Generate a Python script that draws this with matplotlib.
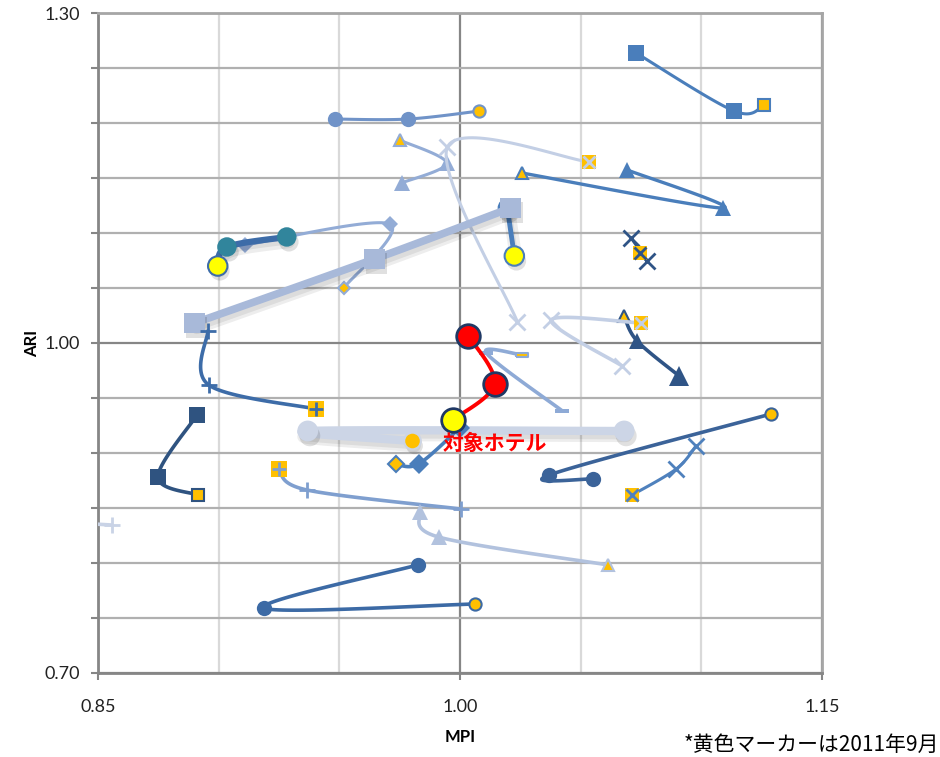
import numpy as np
import matplotlib
matplotlib.use("Agg")
import matplotlib.pyplot as plt
import matplotlib.patheffects as pe

plt.rcParams['font.family'] = ['Lato', 'Noto Sans CJK JP', 'DejaVu Sans']

# MPI / ARI の推移（各系列の最後の点が2011年9月）
s01_x = [1.0730, 1.1136, 1.1260]
s01_y = [1.2636, 1.2109, 1.2164]
s02_x = [0.9481, 0.9783, 1.0080]
s02_y = [1.2036, 1.2036, 1.2109]
s03_x = [0.9758, 0.9944, 0.9750]
s03_y = [1.1455, 1.1636, 1.1845]
s04_x = [1.0238, 0.9948, 1.0536]
s04_y = [1.0191, 1.1782, 1.1645]
s05_x = [1.0693, 1.1090, 1.0258]
s05_y = [1.1573, 1.1227, 1.1545]
s06_x = [0.8901, 0.9646, 1.0209]
s06_y = [1.0182, 1.0764, 1.1227]
s07_x = [1.0196, 1.0225]
s07_y = [1.1227, 1.0791]
s08_x = [0.9108, 0.9708, 0.9518]
s08_y = [1.0891, 1.1082, 1.0500]
s09_x = [0.9282, 0.9034, 0.8996]
s09_y = [1.0964, 1.0873, 1.0700]
s10_x = [1.0709, 1.0776, 1.0747]
s10_y = [1.0955, 1.0745, 1.0818]
s11_x = [1.0908, 1.0734, 1.0680]
s11_y = [0.9700, 1.0018, 1.0245]
s12_x = [1.0672, 1.0378, 1.0751]
s12_y = [0.9791, 1.0209, 1.0182]
s14_x = [1.0424, 1.0109, 1.0258]
s14_y = [0.9382, 0.9909, 0.9891]
s15_x = [1.0680, 0.9369, 0.9803]
s15_y = [0.9200, 0.9200, 0.9109]
s16_x = [0.9998, 0.9828, 0.9733]
s16_y = [0.9227, 0.8900, 0.8900]
s17_x = [0.8910, 0.8748, 0.8914]
s17_y = [0.9345, 0.8782, 0.8618]
s18_x = [0.8955, 0.8959, 0.9402]
s18_y = [1.0109, 0.9618, 0.9400]
s19_x = [1.0002, 0.9365, 0.9249]
s19_y = [0.8491, 0.8664, 0.8855]
s20_x = [0.8558, 0.8400]
s20_y = [0.8345, 0.8365]
s21_x = [0.9836, 0.9911, 1.0614]
s21_y = [0.8464, 0.8236, 0.7982]
s22_x = [0.9824, 0.9187, 1.0064]
s22_y = [0.7982, 0.7591, 0.7627]
s23_x = [1.0552, 1.0370, 1.1289]
s23_y = [0.8764, 0.8800, 0.9355]
s24_x = [1.0978, 1.0896, 1.0713]
s24_y = [0.9064, 0.8855, 0.8618]

# 対象ホテル
hotel_x = [1.0035, 1.0143, 0.9969]
hotel_y = [1.0064, 0.9627, 0.9300]

x_ticks = [0.85, 1.00, 1.15]
y_ticks = [0.70, 1.00, 1.30]

ORANGE = '#FFC000'
YELLOW = '#FFFF00'

# (x, y, 線色, マーカー, サイズ, 線幅, 塗り, 9月の塗り, 影)
series = [
    (s01_x, s01_y, '#4a7ebb', 's', 11, 2.2, '#4a7ebb', ORANGE, False),
    (s02_x, s02_y, '#7093c8', 'o', 11, 2.2, '#7093c8', ORANGE, False),
    (s03_x, s03_y, '#93acd6', '^', 11, 2.2, '#93acd6', ORANGE, False),
    (s04_x, s04_y, '#c3cfe5', 'x', 11, 2.2, 'none', ORANGE, False),
    (s05_x, s05_y, '#4a7ebb', '^', 11, 2.4, '#4a7ebb', ORANGE, False),
    (s08_x, s08_y, '#93acd6', 'D', 8, 2.2, '#93acd6', ORANGE, False),
    (s07_x, s07_y, '#4a7ebb', 'o', 14, 3.5, '#4a7ebb', YELLOW, True),
    (s06_x, s06_y, '#a8b9d9', 's', 15, 5.5, '#a8b9d9', None, True),
    (s09_x, s09_y, '#3d6ca8', 'o', 14, 4.5, '#31859c', YELLOW, True),
    (s10_x, s10_y, '#2f5486', 'x', 11, 2.2, 'none', ORANGE, False),
    (s11_x, s11_y, '#2f5486', '^', 11, 2.6, '#2f5486', ORANGE, False),
    (s12_x, s12_y, '#c3cfe5', 'x', 11, 2.6, 'none', ORANGE, False),
    (s14_x, s14_y, '#8eaad6', 'dash', 10, 2.6, '#8eaad6', ORANGE, False),
    (s15_x, s15_y, '#ccd5e6', 'o', 15, 6.0, '#ccd5e6', ORANGE, True),
    (s16_x, s16_y, '#4a7ebb', 'D', 10, 2.6, '#4a7ebb', ORANGE, False),
    (s17_x, s17_y, '#2f5380', 's', 11, 2.6, '#2f5380', ORANGE, False),
    (s18_x, s18_y, '#3d6ca8', '+', 12, 2.6, 'none', ORANGE, False),
    (s19_x, s19_y, '#7f9fcf', '+', 12, 2.6, 'none', ORANGE, False),
    (s20_x, s20_y, '#c9d3e6', '+', 12, 2.6, 'none', None, False),
    (s21_x, s21_y, '#b2c2de', '^', 11, 2.6, '#b2c2de', ORANGE, False),
    (s22_x, s22_y, '#3c6aa5', 'o', 11, 2.6, '#3c6aa5', ORANGE, False),
    (s23_x, s23_y, '#3b6399', 'o', 11, 2.6, '#3b6399', ORANGE, False),
    (s24_x, s24_y, '#4f81bd', 'x', 11, 2.2, 'none', ORANGE, False),
]

DASH = [(-1, -0.35), (1, -0.35), (1, 0.35), (-1, 0.35), (-1, -0.35)]


def smooth(xs, ys, n=40):
    # Excel風の平滑線（Catmull-Rom を3次ベジェで）
    p = np.column_stack([xs, ys]).astype(float)
    out = []
    for i in range(len(p) - 1):
        p0 = p[max(i - 1, 0)]
        p1 = p[i]
        p2 = p[i + 1]
        p3 = p[min(i + 2, len(p) - 1)]
        b1 = p1 + (p2 - p0) / 6
        b2 = p2 - (p3 - p1) / 6
        t = np.linspace(0, 1, n)[:, None]
        seg = (1 - t) ** 3 * p1 + 3 * (1 - t) ** 2 * t * b1 + 3 * (1 - t) * t ** 2 * b2 + t ** 3 * p2
        out.append(seg if i == 0 else seg[1:])
    out = np.vstack(out)
    return out[:, 0], out[:, 1]


fig = plt.figure(figsize=(9.4, 7.57), dpi=100)
ax = fig.add_axes([0.1043, 0.111, 0.7702, 0.8718])
ax.set_xlim(0.85, 1.15)
ax.set_ylim(0.70, 1.30)

# ぼかした影の代わりに薄い影を重ねる
line_shadow = [pe.SimpleLineShadow(offset=(1.5, -3.5), shadow_color='k', alpha=0.07, linewidth=9),
               pe.SimpleLineShadow(offset=(1.5, -3), shadow_color='k', alpha=0.07), pe.Normal()]
mark_shadow = [pe.SimplePatchShadow(offset=(1.5, -3.5), shadow_rgbFace='k', alpha=0.12), pe.Normal()]

z = 3
for xs, ys, col, mk, ms, lw, face, sep_face, shadow in series:
    sx, sy = smooth(xs, ys)
    ln, = ax.plot(sx, sy, color=col, lw=lw, solid_capstyle='round', zorder=z)
    if shadow:
        ln.set_path_effects(line_shadow)
    marker = DASH if mk == 'dash' else mk
    n_main = len(xs) - 1 if sep_face else len(xs)
    if mk in ('x', '+'):
        m, = ax.plot(xs[:n_main], ys[:n_main], ls='none', marker=marker, ms=ms, mew=2,
                     color=col, zorder=z + 0.1)
    else:
        m, = ax.plot(xs[:n_main], ys[:n_main], ls='none', marker=marker, ms=ms, mew=0,
                     mfc=face, color=col, zorder=z + 0.1)
    if shadow:
        m.set_path_effects(mark_shadow)
    if sep_face:
        if mk in ('x', '+'):
            ax.plot(xs[-1:], ys[-1:], ls='none', marker='s', ms=ms * 0.95, mew=0,
                    mfc=sep_face, zorder=z + 0.2)
            ax.plot(xs[-1:], ys[-1:], ls='none', marker=mk, ms=ms * 0.8, mew=2,
                    color=col, zorder=z + 0.3)
        else:
            sm = ms if sep_face == YELLOW else ms * 0.8
            y_m, = ax.plot(xs[-1:], ys[-1:], ls='none', marker=marker, ms=sm, mew=1.5,
                           mfc=sep_face, mec=col, zorder=z + 0.2)
            if shadow:
                y_m.set_path_effects(mark_shadow)
    z += 1

# 大きい三角（直近）
ax.plot(s11_x[:1], s11_y[:1], ls='none', marker='^', ms=15, mew=0, mfc='#2f5486', zorder=z)

# 対象ホテル
hx, hy = smooth(hotel_x, hotel_y)
ax.plot(hx, hy, color='#ff0000', lw=2.8, zorder=z + 1)
ax.plot(hotel_x[:-1], hotel_y[:-1], ls='none', marker='o', ms=17, mew=2,
        mfc='#ff0000', mec='#1f3864', zorder=z + 2)
ax.plot(hotel_x[-1:], hotel_y[-1:], ls='none', marker='o', ms=17, mew=2,
        mfc=YELLOW, mec='#1f3864', zorder=z + 2)
ax.annotate('対象ホテル', xy=(hotel_x[-1], hotel_y[-1]), xytext=(-10, -23),
            textcoords='offset pixels', ha='left', va='center', color='#ff0000',
            fontsize=15, fontweight='bold', family=['Noto Sans CJK JP'], zorder=z + 3)

# 軸と目盛線
ax.set_xticks(x_ticks)
ax.set_yticks(y_ticks)
ax.set_xticks(np.arange(0.85, 1.151, 0.05), minor=True)
ax.set_yticks(np.arange(0.70, 1.301, 0.05), minor=True)
ax.set_xticklabels([f'{v:.2f}' for v in x_ticks])
ax.set_yticklabels([f'{v:.2f}' for v in y_ticks])
ax.set_axisbelow(True)
ax.grid(axis='y', which='minor', color='#b0b0b0', lw=1.6)
ax.grid(axis='x', which='minor', color='#d9d9d9', lw=1.6)
ax.grid(which='major', color='#868686', lw=1.6)
ax.tick_params(axis='both', which='major', labelsize=13, colors='#868686',
               labelcolor='#222222', length=5, width=1.5)
ax.tick_params(axis='x', which='major', pad=14)
ax.tick_params(axis='y', which='major', pad=8)
ax.tick_params(axis='y', which='minor', length=5, width=1.5, colors='#868686')
ax.tick_params(axis='x', which='minor', length=0)
for side in ['left', 'bottom']:
    ax.spines[side].set_color('#868686')
    ax.spines[side].set_linewidth(2)
for side in ['top', 'right']:
    ax.spines[side].set_color('#a6a6a6')
    ax.spines[side].set_linewidth(2)

ax.set_xlabel('MPI', fontsize=12, fontweight='bold', labelpad=10)
ax.set_ylabel('ARI', fontsize=12, fontweight='bold', labelpad=3)

fig.text(0.999, 1 - 745 / 757, '*黄色マーカーは2011年9月', ha='right', va='center',
         fontsize=15, family=['Noto Sans CJK JP'])

fig.savefig('out.png', dpi=100)
